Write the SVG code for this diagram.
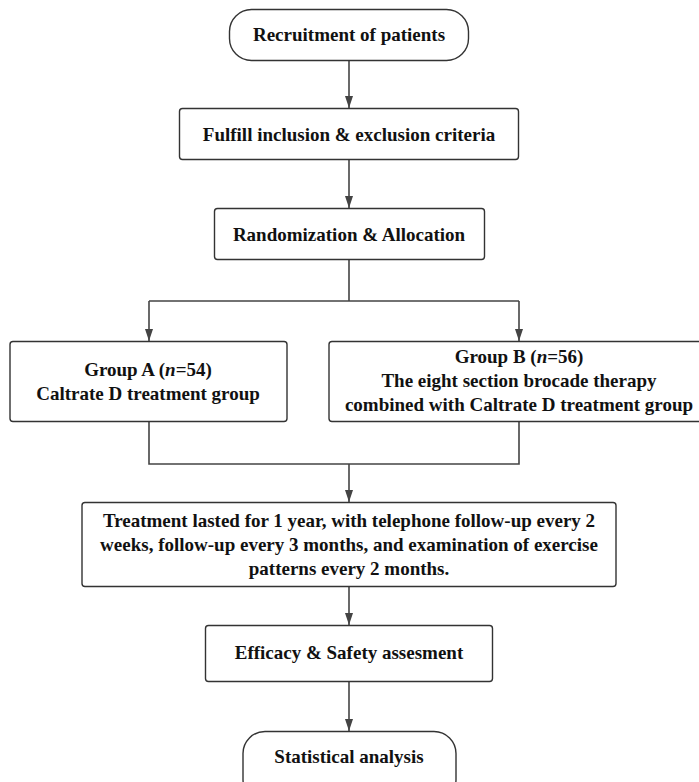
<svg xmlns="http://www.w3.org/2000/svg" width="699" height="782" viewBox="0 0 699 782">
<style>
.box{fill:#fff;stroke:#333;stroke-width:1.4}
.ln{fill:none;stroke:#444;stroke-width:1.6}
text{font-family:"Liberation Serif","Times New Roman",serif;font-weight:bold;font-size:19px;fill:#111;text-anchor:middle}
.it{font-style:italic}
</style>
<defs>
<marker id="ad" markerWidth="8" markerHeight="12" refX="4" refY="12" orient="0" markerUnits="userSpaceOnUse" viewBox="0 0 8 12">
<path d="M0,0 L8,0 L4,12 Z" fill="#444"/>
</marker>
</defs>
<rect width="699" height="782" fill="#fff"/>
<g id="connectors">
<path class="ln" d="M349,60 V108" marker-end="url(#ad)"/>
<path class="ln" d="M349,159 V208" marker-end="url(#ad)"/>
<path class="ln" d="M349,259 V301 M149,301 H519"/>
<path class="ln" d="M149,301 V341" marker-end="url(#ad)"/>
<path class="ln" d="M519,301 V341" marker-end="url(#ad)"/>
<path class="ln" d="M149,422 V464 H519 V422"/>
<path class="ln" d="M349,464 V502" marker-end="url(#ad)"/>
<path class="ln" d="M349,587 V625" marker-end="url(#ad)"/>
<path class="ln" d="M349,681 V731" marker-end="url(#ad)"/>
</g>
<g id="recruitment">
<rect class="box" x="229.5" y="9.5" width="239" height="51" rx="22" ry="22"/>
<text x="349" y="41">Recruitment of patients</text>
</g>
<g id="fulfill">
<rect class="box" x="179.5" y="108.5" width="339" height="51" rx="3"/>
<text x="349" y="141">Fulfill inclusion &amp; exclusion criteria</text>
</g>
<g id="randomization">
<rect class="box" x="214.5" y="208.5" width="270" height="51" rx="3"/>
<text x="349" y="241">Randomization &amp; Allocation</text>
</g>
<g id="groupA">
<rect class="box" x="10" y="341.5" width="277" height="80" rx="3"/>
<text x="148" y="376">Group A (<tspan class="it">n</tspan>=54)</text>
<text x="148" y="400">Caltrate D treatment group</text>
</g>
<g id="groupB">
<rect class="box" x="329" y="341.5" width="380" height="80" rx="3"/>
<text x="519" y="363">Group B (<tspan class="it">n</tspan>=56)</text>
<text x="519" y="387">The eight section brocade therapy</text>
<text x="519" y="411">combined with Caltrate D treatment group</text>
</g>
<g id="treatment">
<rect class="box" x="82" y="502.5" width="534" height="84" rx="3"/>
<text x="349" y="527">Treatment lasted for 1 year, with telephone follow-up every 2</text>
<text x="349" y="551">weeks, follow-up every 3 months, and examination of exercise</text>
<text x="349" y="575">patterns every 2 months.</text>
</g>
<g id="efficacy">
<rect class="box" x="205.5" y="625.5" width="287" height="56" rx="3"/>
<text x="349" y="659">Efficacy &amp; Safety assesment</text>
</g>
<g id="statistical">
<rect class="box" x="243" y="731.5" width="213" height="70" rx="22" ry="22"/>
<text x="349" y="763">Statistical analysis</text>
</g>
</svg>
